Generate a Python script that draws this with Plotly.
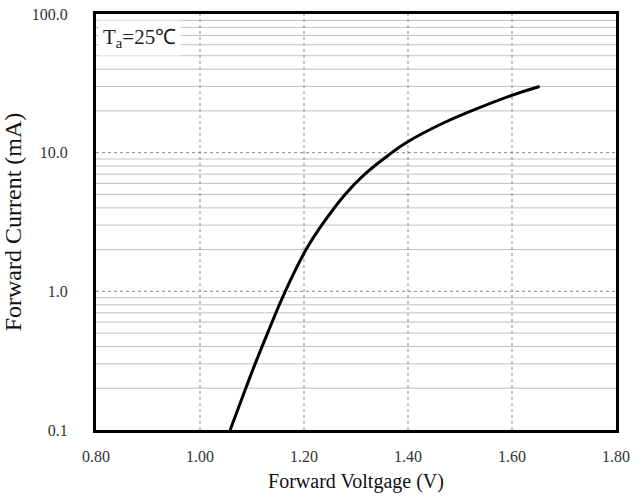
import plotly.graph_objects as go

# Forward I-V characteristic at Ta = 25 C
voltage_v = [1.058, 1.088, 1.106, 1.130, 1.164, 1.204, 1.234, 1.279,
             1.317, 1.369, 1.398, 1.470, 1.522, 1.597, 1.653]
current_ma = [0.10, 0.20, 0.30, 0.50, 1.00, 2.00, 3.00, 5.00,
              7.00, 10.0, 11.9, 16.5, 20.0, 25.7, 30.0]

x_ticks = [0.80, 1.00, 1.20, 1.40, 1.60, 1.80]
x_tick_text = ["0.80", "1.00", "1.20", "1.40", "1.60", "1.80"]
y_ticks = [0.1, 1.0, 10.0, 100.0]
y_tick_text = ["0.1", "1.0", "10.0", "100.0"]

FONT = "Liberation Serif"

fig = go.Figure()

fig.add_trace(go.Scatter(
    x=voltage_v, y=current_ma, mode="lines",
    line=dict(color="black", width=3, shape="spline", smoothing=1.3),
    hoverinfo="skip", showlegend=False,
))

shapes = []
# minor horizontal grid (2..9 in each decade), solid light gray
for dec in y_ticks[:-1]:
    for k in range(2, 10):
        v = dec * k
        shapes.append(dict(type="line", xref="paper", yref="y", x0=0, x1=1,
                           y0=v, y1=v, layer="below",
                           line=dict(color="#c2c2c2", width=1)))
# major horizontal grid, dashed
for v in y_ticks[1:-1]:
    shapes.append(dict(type="line", xref="paper", yref="y", x0=0, x1=1,
                       y0=v, y1=v, layer="below",
                       line=dict(color="#8a8a8a", width=1, dash="dot")))
# vertical grid, dashed
for v in x_ticks[1:-1]:
    shapes.append(dict(type="line", xref="x", yref="paper", x0=v, x1=v,
                       y0=0, y1=1, layer="below",
                       line=dict(color="#8a8a8a", width=1, dash="dot")))

fig.update_layout(
    width=636, height=497,
    margin=dict(l=96, r=20, t=14, b=67),
    paper_bgcolor="white", plot_bgcolor="white",
    font=dict(family=FONT, color="#333333", size=16),
    shapes=shapes,
    xaxis=dict(
        range=[0.80, 1.80], tickvals=x_ticks, ticktext=x_tick_text,
        showgrid=False, zeroline=False, automargin=False,
        showline=True, linecolor="black", linewidth=3, mirror=True,
        ticks="", ticklabelstandoff=10,
        tickfont=dict(family=FONT, size=16, color="#333333"),
        title=dict(text="Forward Voltgage (V)", standoff=10,
                   font=dict(family=FONT, size=20, color="#111111")),
    ),
    yaxis=dict(
        type="log", range=[-1, 2], tickvals=y_ticks, ticktext=y_tick_text,
        showgrid=False, zeroline=False, automargin=False,
        showline=True, linecolor="black", linewidth=3, mirror=True,
        ticks="", ticklabelstandoff=22,
        tickfont=dict(family=FONT, size=16, color="#333333"),
        title=dict(text="Forward Current (mA)", standoff=6,
                   font=dict(family=FONT, size=24, color="#111111")),
    ),
    annotations=[dict(
        text="T<sub>a</sub>=25℃", xref="paper", yref="paper",
        x=0.0, y=0.985, xanchor="left", yanchor="top", showarrow=False,
        xshift=2, bgcolor="white", borderpad=4,
        font=dict(family=FONT, size=21, color="#222222"),
    )],
)

fig.write_html("out.html")
